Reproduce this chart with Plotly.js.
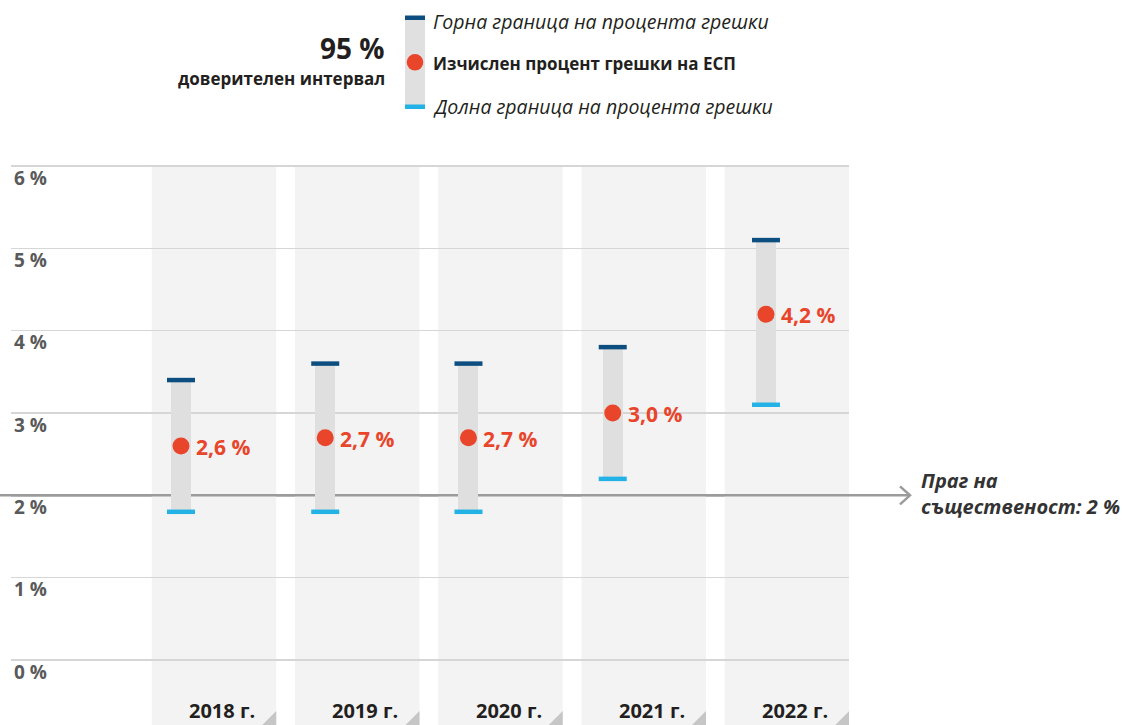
<!DOCTYPE html>
<html>
<head>
<meta charset="utf-8">
<script src="https://cdn.plot.ly/plotly-3.0.1.min.js"></script>
<style>
  html, body { margin: 0; padding: 0; background: #ffffff; }
  #chart { width: 1123px; height: 725px; }
</style>
</head>
<body>
<div id="chart"></div>
<script>
// ---------- DATA ----------
const years = ['2018 г.', '2019 г.', '2020 г.', '2021 г.', '2022 г.'];
const errorRate = [2.6, 2.7, 2.7, 3.0, 4.2];
const upperLimit = [3.4, 3.6, 3.6, 3.8, 5.1];
const lowerLimit = [1.8, 1.8, 1.8, 2.2, 3.1];
const yTickVals = [0, 1, 2, 3, 4, 5, 6];
const yTickText = ['0 %', '1 %', '2 %', '3 %', '4 %', '5 %', '6 %'];
const threshold = 2;
const thresholdText = 'Праг на<br>същественост: 2 %';
const legendTitle = '95 %';
const legendSubtitle = 'доверителен интервал';
const legendUpper = 'Горна граница на процента грешки';
const legendPoint = 'Изчислен процент грешки на ЕСП';
const legendLower = 'Долна граница на процента грешки';

// ---------- LAYOUT GEOMETRY ----------
const FONT = 'Open Sans, Noto Sans, sans-serif';
const pxPerUnitY = 82.33;
const plotL = 11, plotR = 849, plotT = 163, plotB = 725;
const xRange = [-1.417, 4.433];
const yRange = [-(plotB - 660) / pxPerUnitY, 6 + (166 - plotT) / pxPerUnitY];
const unitPx = (plotR - plotL) / (xRange[1] - xRange[0]);
const px2paperX = px => (px - plotL) / (plotR - plotL);
const py2paperY = py => (plotB - py) / (plotB - plotT);

const C_UPPER = '#0d4e80', C_LOWER = '#22b2e5', C_DOT = '#e8452b';
const C_BAR = '#dfdfdf', C_COL = '#f3f3f3', C_GRID = '#d6d6d6', C_THR = '#9b9b9b';

const xPos = years.map((_, i) => i);
const barShiftPx = [-33, -32, -32, -31, -21];
const barX = xPos.map((x, i) => x + barShiftPx[i] / unitPx);
const barW = 20 / unitPx;
const colHalf = 62.25 / unitPx;
const fmt = v => v.toFixed(1).replace('.', ',') + ' %';

// ---------- TRACES ----------
const traces = [
  {
    type: 'bar', x: barX, base: lowerLimit,
    y: upperLimit.map((u, i) => u - lowerLimit[i]),
    width: barW, marker: { color: C_BAR, line: { width: 0 } },
    hoverinfo: 'skip', showlegend: false
  },
  {
    type: 'scatter', mode: 'markers', x: barX, y: upperLimit,
    marker: { symbol: 'line-ew', size: 20, line: { width: 4.5, color: C_UPPER } },
    hoverinfo: 'skip', showlegend: false
  },
  {
    type: 'scatter', mode: 'markers', x: barX, y: lowerLimit,
    marker: { symbol: 'line-ew', size: 20, line: { width: 4.5, color: C_LOWER } },
    hoverinfo: 'skip', showlegend: false
  },
  {
    type: 'scatter', mode: 'markers', x: barX, y: errorRate,
    marker: { symbol: 'circle', size: 17, color: C_DOT, line: { width: 0 } },
    hoverinfo: 'skip', showlegend: false
  }
];

// ---------- SHAPES ----------
const shapes = [];
shapes.push({
  type: 'line', xref: 'paper', yref: 'y',
  x0: px2paperX(0), x1: px2paperX(909), y0: threshold, y1: threshold,
  line: { color: C_THR, width: 2.5 }, layer: 'below'
});
xPos.forEach(x => shapes.push({
  type: 'rect', xref: 'x', yref: 'y',
  x0: x - colHalf, x1: x + colHalf, y0: yRange[0], y1: yTickVals[yTickVals.length - 1],
  fillcolor: C_COL, line: { width: 0 }, layer: 'below'
}));
xPos.forEach(x => shapes.push({
  type: 'path', xref: 'x', yref: 'y',
  xsizemode: 'pixel', ysizemode: 'pixel',
  xanchor: x + colHalf, yanchor: yRange[0],
  path: 'M0,0 L0,14 L-14,0 Z',
  fillcolor: '#c6c6c6', line: { width: 0 }, layer: 'below'
}));
shapes.push({
  type: 'line', xref: 'x', yref: 'y',
  x0: xRange[0], x1: xRange[1], y0: threshold, y1: threshold,
  line: { color: C_THR, width: 2.5 }, layer: 'between'
});
shapes.push({
  type: 'path', xref: 'paper', yref: 'y',
  xsizemode: 'pixel', ysizemode: 'pixel',
  xanchor: px2paperX(910), yanchor: threshold,
  path: 'M-10,9 L0,0 L-10,-9',
  line: { color: C_THR, width: 2.5 }, layer: 'below'
});
// legend glyph
shapes.push({ type: 'rect', xref: 'paper', yref: 'paper',
  x0: px2paperX(405), x1: px2paperX(425), y0: py2paperY(107), y1: py2paperY(17),
  fillcolor: '#e0e0e0', line: { width: 0 } });
shapes.push({ type: 'rect', xref: 'paper', yref: 'paper',
  x0: px2paperX(405), x1: px2paperX(425), y0: py2paperY(20), y1: py2paperY(15.5),
  fillcolor: C_UPPER, line: { width: 0 } });
shapes.push({ type: 'rect', xref: 'paper', yref: 'paper',
  x0: px2paperX(405), x1: px2paperX(425), y0: py2paperY(109), y1: py2paperY(104.5),
  fillcolor: C_LOWER, line: { width: 0 } });
shapes.push({ type: 'circle', xref: 'paper', yref: 'paper',
  x0: px2paperX(406.7), x1: px2paperX(423.3), y0: py2paperY(70.6), y1: py2paperY(54),
  fillcolor: C_DOT, line: { width: 0 } });

// ---------- ANNOTATIONS ----------
const annotations = [];
errorRate.forEach((v, i) => annotations.push({
  xref: 'x', yref: 'y', x: barX[i], y: v, xanchor: 'left', yanchor: 'middle',
  xshift: 13, yshift: -1, showarrow: false, text: fmt(v),
  font: { family: FONT, size: 21, weight: 700, color: C_DOT }
}));
years.forEach((t, i) => annotations.push({
  xref: 'x', yref: 'paper', x: xPos[i], y: 0, xanchor: 'right', yanchor: 'middle',
  xshift: 62.25 - 19, yshift: 14.5, showarrow: false, text: t,
  font: { family: FONT, size: 20, weight: 700, color: '#231f20' }
}));
annotations.push({
  xref: 'paper', yref: 'y', x: px2paperX(919), y: threshold, xanchor: 'left', yanchor: 'middle',
  yshift: 1.5, align: 'left', showarrow: false, text: thresholdText,
  font: { family: FONT, size: 20, weight: 700, style: 'italic', color: '#333333' }
});
const legendText = (text, px, py, anchor, size, weight, style) => annotations.push({
  xref: 'paper', yref: 'paper', x: px2paperX(px), y: py2paperY(py),
  xanchor: anchor, yanchor: 'middle', showarrow: false, text: text,
  font: { family: FONT, size: size, weight: weight, style: style, color: '#231f20' }
});
legendText(legendTitle, 387, 48, 'right', 28, 700, 'normal');
legendText(legendSubtitle, 387, 78, 'right', 17, 700, 'normal');
legendText(legendUpper, 431, 21, 'left', 19.5, 400, 'italic');
legendText(legendPoint, 431, 64, 'left', 17, 700, 'normal');
legendText(legendLower, 431, 106, 'left', 19.5, 400, 'italic');

// ---------- LAYOUT ----------
const layout = {
  width: 1123, height: 725,
  margin: { l: plotL, r: 1123 - plotR, t: plotT, b: 725 - plotB, pad: 0 },
  paper_bgcolor: '#ffffff', plot_bgcolor: 'rgba(0,0,0,0)',
  showlegend: false, bargap: 0,
  font: { family: FONT },
  xaxis: {
    range: xRange, showgrid: false, zeroline: false, showticklabels: false,
    showline: false, ticks: '', fixedrange: true
  },
  yaxis: {
    range: yRange, tickmode: 'array', tickvals: yTickVals, ticktext: yTickText,
    showgrid: true, gridcolor: C_GRID, gridwidth: 1.5, zeroline: false,
    showline: false, ticks: '', ticklabelposition: 'inside',
    ticklabelshift: 12, ticklabelstandoff: 0,
    tickfont: { family: FONT, size: 19, weight: 700, color: '#5a5a5a' },
    fixedrange: true
  },
  shapes: shapes,
  annotations: annotations
};

Plotly.newPlot('chart', traces, layout, { staticPlot: true, displayModeBar: false });
</script>
</body>
</html>
